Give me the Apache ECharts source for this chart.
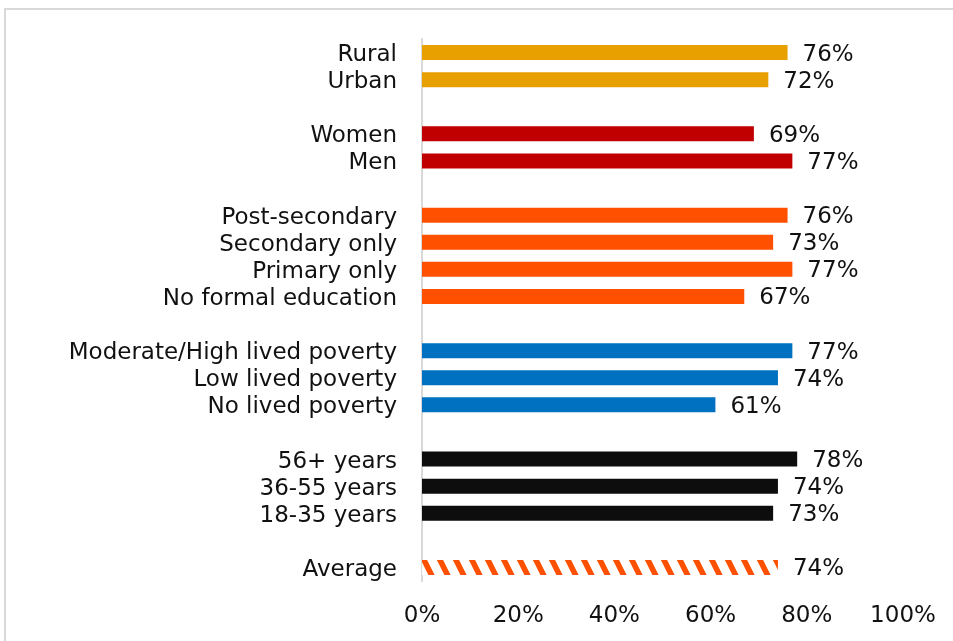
<!DOCTYPE html>
<html>
<head>
<meta charset="utf-8">
<script src="https://cdn.jsdelivr.net/npm/echarts@6/dist/echarts.min.js"></script>
<style>
html,body{margin:0;padding:0;background:#fff;}
#chart{width:953px;height:641px;}
</style>
</head>
<body>
<div id="chart"></div>
<script>
// ---- data ----
const locationLabels = ['Rural', 'Urban'];
const locationValues = [76, 72];
const genderLabels = ['Women', 'Men'];
const genderValues = [69, 77];
const educationLabels = ['Post-secondary', 'Secondary only', 'Primary only', 'No formal education'];
const educationValues = [76, 73, 77, 67];
const povertyLabels = ['Moderate/High lived poverty', 'Low lived poverty', 'No lived poverty'];
const povertyValues = [77, 74, 61];
const ageLabels = ['56+ years', '36-55 years', '18-35 years'];
const ageValues = [78, 74, 73];
const averageLabels = ['Average'];
const averageValues = [74];
const xTickValues = [0, 20, 40, 60, 80, 100];

// ---- styles ----
const FONT = 'DejaVu Sans';
const groupColors = ['#E8A000', '#C00000', '#FF5000', '#0070C0', '#0D0D0D', 'hatch'];

function hatchPattern() {
  const c = document.createElement('canvas');
  c.width = 16; c.height = 32;
  const g = c.getContext('2d');
  g.fillStyle = '#ffffff';
  g.fillRect(0, 0, 16, 32);
  g.strokeStyle = '#FF5000';
  g.lineWidth = 5.5;
  g.beginPath();
  for (let k = -1; k <= 1; k++) {
    g.moveTo(k * 16 - 4, -8);
    g.lineTo(k * 16 + 20, 40);
  }
  g.stroke();
  return { image: c, repeat: 'repeat' };
}

const groups = [
  [locationLabels, locationValues],
  [genderLabels, genderValues],
  [educationLabels, educationValues],
  [povertyLabels, povertyValues],
  [ageLabels, ageValues],
  [averageLabels, averageValues]
];

const categories = [];
const seriesData = [];
let blank = ' ';
groups.forEach((grp, gi) => {
  if (gi > 0) {
    categories.push(blank);
    seriesData.push('-');
    blank += ' ';
  }
  const col = groupColors[gi] === 'hatch' ? hatchPattern() : groupColors[gi];
  grp[0].forEach((name, i) => {
    categories.push(name);
    seriesData.push({ value: grp[1][i], itemStyle: { color: col } });
  });
});

const chart = echarts.init(document.getElementById('chart'), null, { renderer: 'canvas' });
chart.setOption({
  animation: false,
  backgroundColor: '#ffffff',
  graphic: [{
    type: 'rect',
    shape: { x: 5, y: 9, width: 1200, height: 900 },
    style: { fill: 'none', stroke: '#D9D9D9', lineWidth: 2 },
    silent: true
  }],
  grid: { left: 422, right: 50, top: 39, bottom: 60, containLabel: false },
  xAxis: {
    type: 'value',
    min: xTickValues[0],
    max: xTickValues[xTickValues.length - 1],
    interval: xTickValues[1] - xTickValues[0],
    axisLine: { show: false },
    axisTick: { show: false },
    splitLine: { show: false },
    axisLabel: {
      formatter: '{value}%',
      fontFamily: FONT,
      fontSize: 23,
      color: '#111',
      margin: 24
    }
  },
  yAxis: {
    type: 'category',
    data: categories,
    inverse: true,
    axisLine: { show: true, lineStyle: { color: '#D9D9D9', width: 2 } },
    axisTick: { show: false },
    axisLabel: {
      margin: 25,
      interval: 0,
      formatter: v => '{a|' + v + '}',
      rich: {
        a: {
          fontFamily: FONT,
          fontSize: 23,
          color: '#111',
          padding: [5, 0, 0, 0]
        }
      }
    }
  },
  series: [{
    type: 'bar',
    data: seriesData,
    barWidth: 15,
    label: {
      show: true,
      position: 'right',
      distance: 15,
      formatter: p => p.value + '%',
      fontFamily: FONT,
      fontSize: 23,
      color: '#111',
      offset: [0, 2]
    }
  }]
});
</script>
</body>
</html>
